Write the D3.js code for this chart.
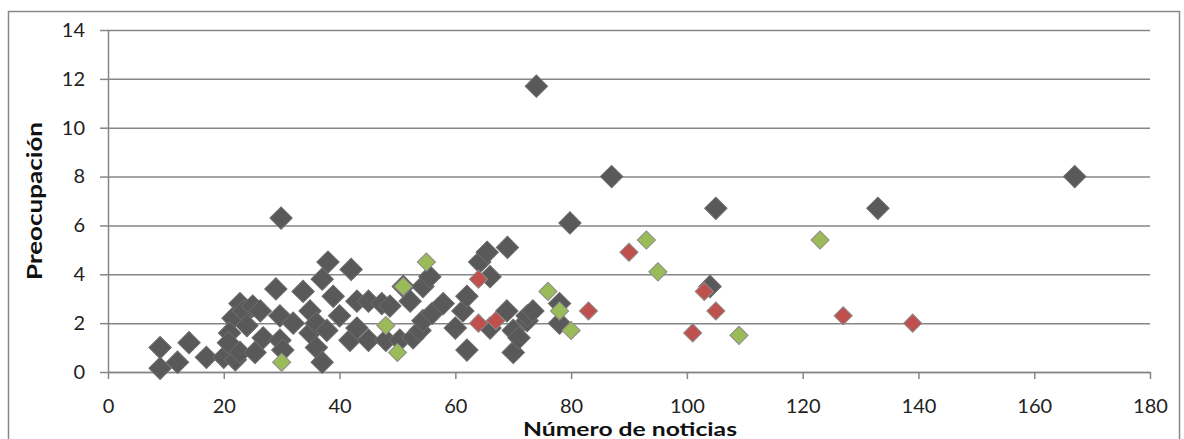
<!DOCTYPE html>
<html lang="es">
<head>
    <meta charset="UTF-8">
    <title>Preocupación vs noticias</title>
    <script src="https://cdn.jsdelivr.net/npm/d3@7"></script>
    <style>
        body { margin: 0; background: #fff; }
        text { font-family: Lato, "Open Sans", sans-serif; }
    </style>
</head>
<body>
<script>
    // datos: [número de noticias, preocupación]
    const grises = [
        [9, 1.0], [9, 0.15], [12, 0.4], [14, 1.2], [17, 0.6], [20, 0.6], [22, 0.5],
        [22.8, 2.8], [21.6, 2.2], [21, 1.6], [20.8, 1.2], [24, 2.5], [23.4, 2.5],
        [22.8, 0.8], [25, 2.7], [26.3, 2.5], [25.4, 0.8], [26.8, 1.4], [24, 1.9],
        [29, 3.4], [29.9, 6.3], [29.7, 2.3], [29.7, 1.3], [30.2, 0.9], [32, 2.0],
        [33.7, 3.3], [34.9, 2.5], [34.9, 1.6], [36, 2.0], [36, 1.0], [37, 0.4],
        [37, 3.8], [37.8, 1.7], [38, 4.5], [38.9, 3.1], [40, 2.3], [41.8, 1.3],
        [42, 4.2], [43, 2.9], [43, 1.8], [45, 2.9], [45, 1.3], [47.3, 2.8],
        [48, 1.3], [48.7, 2.7], [50.4, 1.3], [51, 3.5], [52.2, 2.9], [52.7, 1.4],
        [53.9, 1.7], [54.4, 2.1], [54.4, 3.5], [55.6, 3.9], [56, 2.4], [57.9, 2.8],
        [60, 1.8], [61.3, 2.5], [62, 3.1], [62, 0.9], [64.2, 4.5], [65.5, 4.9],
        [66, 3.9], [66, 1.8], [68.9, 2.5], [69, 5.1], [70, 1.7], [70, 0.8],
        [71, 1.4], [72.4, 2.1], [72.4, 2.3], [73.4, 2.5], [74, 11.7], [78, 2.8],
        [78, 2.0], [79.8, 6.1], [87, 8.0], [104, 3.5], [105, 6.7], [133, 6.7], [167, 8.0]
    ]
    const verdes = [
        [30, 0.4], [48, 1.9], [50, 0.8], [51, 3.5], [55, 4.5], [76, 3.3], [78, 2.5],
        [80, 1.7], [93, 5.4], [95, 4.1], [109, 1.5], [123, 5.4]
    ]
    const rojos = [
        [64, 3.8], [64, 2.0], [67, 2.1], [83, 2.5], [90, 4.9], [101, 1.6],
        [103, 3.3], [105, 2.5], [127, 2.3], [139, 2.0]
    ]
    const xTicks = [0, 20, 40, 60, 80, 100, 120, 140, 160, 180]
    const yTicks = [0, 2, 4, 6, 8, 10, 12, 14]

    const [width, height] = [1184, 439]
    const margin = {left: 108, right: 34, top: 30, bottom: 67}

    const svg = d3.select('body').append('svg')
        .attr('width', width)
        .attr('height', height)

    // marco exterior
    svg.append('rect')
        .attr('x', 8.5).attr('y', 11.5)
        .attr('width', 1171).attr('height', 440)
        .attr('fill', 'none')
        .attr('stroke', '#868686')
        .attr('stroke-width', 1.5)

    const x = d3.scaleLinear().domain([0, 180]).range([margin.left, width - margin.right])
    const y = d3.scaleLinear().domain([0, 14]).range([height - margin.bottom, margin.top])

    // líneas de cuadrícula + eje Y
    const yAxis = svg.append('g')
        .attr('transform', `translate(${margin.left},0)`)
        .call(d3.axisLeft(y).tickValues(yTicks).tickSize(8).tickPadding(15)
            .tickSizeOuter(0))
    yAxis.select('.domain').attr('stroke', '#868686').attr('stroke-width', 1.5)
    yAxis.selectAll('.tick line').attr('stroke', '#868686').attr('stroke-width', 1.5)
    yAxis.selectAll('.tick text').attr('font-size', 20).attr('fill', '#222')
    yAxis.selectAll('.tick').append('line')
        .attr('x1', 0).attr('x2', x(180) - margin.left)
        .attr('stroke', '#868686').attr('stroke-width', 1.5)

    const xAxis = svg.append('g')
        .attr('transform', `translate(0,${y(0)})`)
        .call(d3.axisBottom(x).tickValues(xTicks).tickSize(7).tickPadding(20)
            .tickSizeOuter(0))
    xAxis.select('.domain').attr('stroke', '#868686').attr('stroke-width', 1.5)
    xAxis.selectAll('.tick line').attr('stroke', '#868686').attr('stroke-width', 1.5)
    xAxis.selectAll('.tick text').attr('font-size', 20).attr('fill', '#222')

    // rombos
    const rombo = (size) => d3.symbol().type(d3.symbolSquare).size(size)
    const pintar = (datos, color, size, borde) => {
        svg.append('g').selectAll('path')
            .data(datos)
            .enter()
            .append('path')
            .attr('d', rombo(size))
            .attr('transform', d => `translate(${x(d[0])},${y(d[1])}) rotate(45)`)
            .attr('fill', color)
            .attr('stroke', borde)
            .attr('stroke-width', 1)
    }
    pintar(grises, '#595959', 250, '#6a6a6a')
    pintar(verdes, '#9bbb59', 165, '#8c8c8c')
    pintar(rojos, '#c0504d', 165, '#8c8c8c')

    // títulos de ejes
    svg.append('text')
        .attr('transform', `translate(42,${y(7)}) rotate(-90)`)
        .attr('text-anchor', 'middle')
        .attr('font-size', 20)
        .attr('font-weight', 'bold')
        .attr('fill', '#111')
        .attr('textLength', 158)
        .attr('lengthAdjust', 'spacingAndGlyphs')
        .text('Preocupación')

    svg.append('text')
        .attr('x', 630).attr('y', 436)
        .attr('text-anchor', 'middle')
        .attr('font-size', 19)
        .attr('font-weight', 'bold')
        .attr('fill', '#111')
        .attr('textLength', 214)
        .attr('lengthAdjust', 'spacingAndGlyphs')
        .text('Número de noticias')
</script>
</body>
</html>
